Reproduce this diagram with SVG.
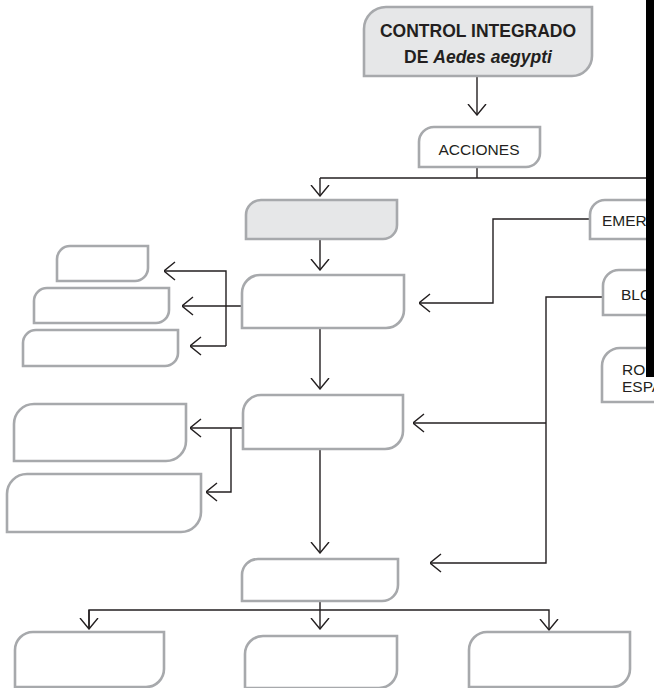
<svg xmlns="http://www.w3.org/2000/svg" width="654" height="688" viewBox="0 0 654 688">
<style>
.box{fill:#ffffff;stroke:#a7a9ac;stroke-width:2.6}
.gray{fill:#e6e7e8}
.con{fill:none;stroke:#231f20;stroke-width:1.4}
.t{font-family:"Liberation Sans",Arial,sans-serif;font-size:15.5px;fill:#231f20}
.tb{font-family:"Liberation Sans",Arial,sans-serif;font-size:17.5px;font-weight:bold;fill:#231f20}
</style>
<defs>
<marker id="arr" viewBox="0 0 12 20" refX="11.5" refY="10" markerWidth="12" markerHeight="20" markerUnits="userSpaceOnUse" orient="auto">
<path d="M0.5,1 L11.5,10 L0.5,19" fill="none" stroke="#231f20" stroke-width="1.4"/>
</marker>
</defs>
<rect width="654" height="688" fill="#ffffff"/>
<g id="connectors">
<path class="con" d="M477,76 V115" marker-end="url(#arr)"/>
<path class="con" d="M477,167 V178"/>
<path class="con" d="M320,178 H654"/>
<path class="con" d="M320,178 V196" marker-end="url(#arr)"/>
<path class="con" d="M320,239 V270" marker-end="url(#arr)"/>
<path class="con" d="M242,306 H182" marker-end="url(#arr)"/>
<path class="con" d="M226,346 V271 H164" marker-end="url(#arr)"/>
<path class="con" d="M226,346 H190" marker-end="url(#arr)"/>
<path class="con" d="M320,328 V389" marker-end="url(#arr)"/>
<path class="con" d="M243,428 H190" marker-end="url(#arr)"/>
<path class="con" d="M231,428 V492 H206" marker-end="url(#arr)"/>
<path class="con" d="M320,449 V553" marker-end="url(#arr)"/>
<path class="con" d="M590,219 H493 V303 H419" marker-end="url(#arr)"/>
<path class="con" d="M603,297 H546 V563 H430" marker-end="url(#arr)"/>
<path class="con" d="M546,423 H413" marker-end="url(#arr)"/>
<path class="con" d="M320,601 V610"/>
<path class="con" d="M89,629 V610 H549 V630" marker-end="url(#arr)"/>
<path class="con" d="M89,610 V629" marker-end="url(#arr)"/>
<path class="con" d="M320,610 V629" marker-end="url(#arr)"/>
</g>
<g id="n-title">
<path class="box gray" d="M364,29 A22,22 0 0 1 386,7 H592 V56 A20,20 0 0 1 572,76 H364 Z"/>
<text class="tb" x="478" y="37" text-anchor="middle">CONTROL INTEGRADO</text>
<text class="tb" x="478" y="63" text-anchor="middle">DE <tspan font-style="italic">Aedes aegypti</tspan></text>
</g>
<g id="n-acciones">
<path class="box" d="M419,142 A15,15 0 0 1 434,127 H540 V153 A14,14 0 0 1 526,167 H419 Z"/>
<text class="t" x="479" y="155" text-anchor="middle">ACCIONES</text>
</g>
<g id="n-gray">
<path class="box gray" d="M246,215 A15,15 0 0 1 261,200 H397 V225 A14,14 0 0 1 383,239 H246 Z"/>
</g>
<g id="n-box2">
<path class="box" d="M242,293 A18,18 0 0 1 260,275 H404 V310 A18,18 0 0 1 386,328 H242 Z"/>
</g>
<g id="n-a">
<path class="box" d="M57,259 A13,13 0 0 1 70,246 H148 V268 A13,13 0 0 1 135,281 H57 Z"/>
</g>
<g id="n-b">
<path class="box" d="M34,301 A13,13 0 0 1 47,288 H169 V310 A13,13 0 0 1 156,323 H34 Z"/>
</g>
<g id="n-c">
<path class="box" d="M23,343 A13,13 0 0 1 36,330 H178 V353 A13,13 0 0 1 165,366 H23 Z"/>
</g>
<g id="n-box3">
<path class="box" d="M243,413 A18,18 0 0 1 261,395 H403 V431 A18,18 0 0 1 385,449 H243 Z"/>
</g>
<g id="n-d">
<path class="box" d="M14,424 A20,20 0 0 1 34,404 H186 V441 A20,20 0 0 1 166,461 H14 Z"/>
</g>
<g id="n-e">
<path class="box" d="M7,494 A20,20 0 0 1 27,474 H201 V512 A20,20 0 0 1 181,532 H7 Z"/>
</g>
<g id="n-box4">
<path class="box" d="M242,575 A16,16 0 0 1 258,559 H398 V585 A16,16 0 0 1 382,601 H242 Z"/>
</g>
<g id="n-f">
<path class="box" d="M15,650 A18,18 0 0 1 33,632 H164 V669 A18,18 0 0 1 146,687 H15 Z"/>
</g>
<g id="n-g">
<path class="box" d="M245,654 A18,18 0 0 1 263,636 H397 V670 A18,18 0 0 1 379,688 H245 Z"/>
</g>
<g id="n-h">
<path class="box" d="M469,650 A18,18 0 0 1 487,632 H630 V669 A18,18 0 0 1 612,687 H469 Z"/>
</g>
<g id="n-emer">
<path class="box" d="M590,215 A15,15 0 0 1 605,200 H680 V239 H590 Z"/>
<text class="t" x="602" y="226">EMER</text>
</g>
<g id="n-blo">
<path class="box" d="M603,286 A16,16 0 0 1 619,270 H680 V315 H603 Z"/>
<text class="t" x="621" y="300">BLO</text>
</g>
<g id="n-ro">
<path class="box" d="M602,366 A18,18 0 0 1 620,348 H680 V402 H602 Z"/>
<text class="t" x="622" y="375">RO</text>
<text class="t" x="622" y="392">ESPA</text>
</g>
<rect x="646" y="0" width="8" height="377" fill="#000000"/>
</svg>
